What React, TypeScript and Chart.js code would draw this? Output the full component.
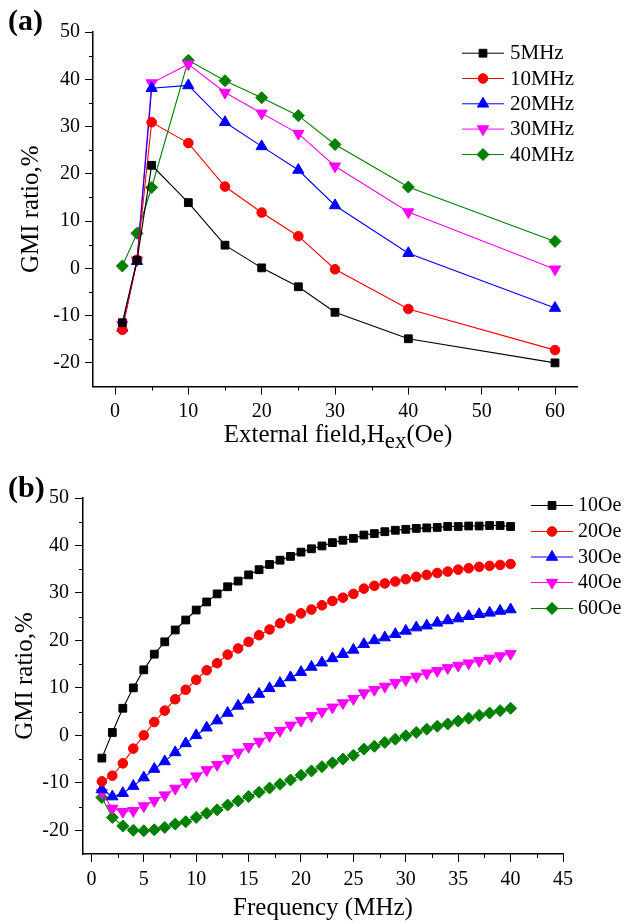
import React, { useEffect, useRef } from 'react';
import { Chart, registerables } from 'chart.js';
import { drawPoint } from 'chart.js/helpers';

Chart.register(...registerables);

const FONT = '"Liberation Serif", "Times New Roman", serif';

// ---------- Panel (a): GMI ratio vs external field ----------
const fieldOe = [1, 3, 5, 10, 15, 20, 25, 30, 40, 60];
const gmi5MHz = [-11.5, 1.7, 21.8, 13.9, 4.9, 0.1, -3.9, -9.3, -14.9, -20.0];
const gmi10MHz = [-13.0, 1.8, 30.9, 26.5, 17.3, 11.8, 6.8, -0.2, -8.6, -17.3];
const gmi20MHz = [-12.6, 1.5, 38.1, 38.7, 30.9, 25.8, 20.8, 13.3, 3.2, -8.4];
const gmi30MHz = [-11.9, 1.7, 39.2, 43.2, 37.2, 32.8, 28.5, 21.6, 11.9, -0.2];
const gmi40MHz = [0.5, 7.4, 17.1, 44.0, 39.7, 36.1, 32.3, 26.2, 17.2, 5.7];
const labelsA = ['5MHz', '10MHz', '20MHz', '30MHz', '40MHz'];
const xMajorA = [0, 10, 20, 30, 40, 50, 60];
const xMinorA = [5, 15, 25, 35, 45, 55];
const yMajor = [-20, -10, 0, 10, 20, 30, 40, 50];
const yMinor = [-15, -5, 5, 15, 25, 35, 45];

// ---------- Panel (b): GMI ratio vs frequency ----------
const freqMHz = [
  1, 2, 3, 4, 5, 6, 7, 8, 9, 10, 11, 12, 13, 14, 15, 16, 17, 18, 19, 20,
  21, 22, 23, 24, 25, 26, 27, 28, 29, 30, 31, 32, 33, 34, 35, 36, 37, 38, 39, 40,
];
const gmi10Oe = [
  -4.8, 0.6, 5.7, 10.0, 13.8, 17.1, 19.7, 22.2, 24.3, 26.4, 28.1, 29.8, 31.3, 32.5, 33.8, 34.9, 36.0, 36.9, 37.7, 38.6,
  39.3, 39.9, 40.6, 41.1, 41.5, 42.2, 42.5, 42.9, 43.2, 43.4, 43.6, 43.7, 43.8, 44.0, 44.0, 44.1, 44.1, 44.2, 44.2, 44.0,
];
const gmi20Oe = [
  -9.7, -8.5, -5.9, -2.8, 0.0, 2.8, 5.2, 7.6, 9.6, 11.7, 13.7, 15.2, 17.0, 18.3, 19.7, 21.1, 22.3, 23.6, 24.6, 25.7,
  26.5, 27.4, 28.3, 29.0, 29.8, 30.9, 31.5, 32.0, 32.4, 32.9, 33.4, 33.8, 34.2, 34.5, 34.9, 35.2, 35.5, 35.7, 35.9, 36.1,
];
const gmi30Oe = [
  -11.4, -12.9, -12.2, -10.7, -8.9, -7.1, -5.5, -3.6, -1.7, 0.0, 1.6, 3.1, 4.7, 6.2, 7.5, 8.7, 9.9, 11.0, 12.2, 13.3,
  14.4, 15.3, 16.2, 17.1, 18.0, 19.2, 20.0, 20.6, 21.3, 22.0, 22.7, 23.1, 23.7, 24.2, 24.6, 25.1, 25.5, 25.8, 26.2, 26.5,
];
const gmi40Oe = [
  -12.1, -15.4, -16.1, -15.9, -14.9, -13.8, -12.6, -11.2, -9.9, -8.6, -7.3, -6.2, -4.9, -3.6, -2.4, -1.3, -0.1, 1.0, 2.1, 3.1,
  4.1, 5.0, 5.9, 6.8, 7.7, 8.9, 9.6, 10.3, 11.1, 11.7, 12.4, 13.1, 13.6, 14.2, 14.7, 15.2, 15.7, 16.2, 16.7, 17.2,
];
const gmi60Oe = [
  -13.1, -17.3, -19.1, -20.0, -20.1, -19.9, -19.4, -18.7, -18.2, -17.3, -16.4, -15.7, -14.7, -13.8, -12.9, -12.0, -11.1, -10.3, -9.4, -8.4,
  -7.5, -6.6, -5.8, -5.0, -4.2, -2.9, -2.3, -1.5, -0.8, -0.1, 0.6, 1.3, 1.9, 2.4, 3.0, 3.6, 4.2, 4.7, 5.2, 5.7,
];
const labelsB = ['10Oe', '20Oe', '30Oe', '40Oe', '60Oe'];
const xMajorB = [0, 5, 10, 15, 20, 25, 30, 35, 40, 45];
const xMinorB = [2.5, 7.5, 12.5, 17.5, 22.5, 27.5, 32.5, 37.5, 42.5];

const yTitle = 'GMI ratio,%';
const xTitleA = ['External field,H', 'ex', '(Oe)'];
const xTitleB = 'Frequency (MHz)';

// ---------- styles ----------
const STYLES = [
  { color: '#000000', pointStyle: 'rect', rotation: 0, radius: 5.5 },
  { color: '#ff0000', pointStyle: 'circle', rotation: 0, radius: 4.8 },
  { color: '#0000ff', pointStyle: 'triangle', rotation: 0, radius: 6.5 },
  { color: '#ff00ff', pointStyle: 'triangle', rotation: 180, radius: 6.5 },
  { color: '#008000', pointStyle: 'rectRot', rotation: 0, radius: 6 },
];

function makeDatasets(xs: number[], series: number[][], labels: string[]) {
  return series.map((ys, i) => {
    const s = STYLES[i];
    return {
      label: labels[i],
      data: xs.map((x, j) => ({ x, y: ys[j] })),
      borderColor: s.color,
      backgroundColor: s.color,
      pointBackgroundColor: s.color,
      pointBorderColor: s.color,
      pointStyle: s.pointStyle,
      pointRotation: s.rotation,
      pointRadius: s.radius,
      pointBorderWidth: 1,
      borderWidth: 1.1,
      tension: 0,
      fill: false,
      clip: false,
    };
  });
}

const minorTickPlugin = {
  id: 'minorTicks',
  afterDraw(chart: any, _a: any, opts: any) {
    const ctx = chart.ctx;
    const xs = chart.scales.x;
    const ys = chart.scales.y;
    const len = opts.len || 4;
    ctx.save();
    ctx.strokeStyle = '#000';
    ctx.lineWidth = 1;
    (opts.x || []).forEach((v: number) => {
      const px = Math.round(xs.getPixelForValue(v)) + 0.5;
      ctx.beginPath();
      ctx.moveTo(px, xs.top);
      ctx.lineTo(px, xs.top + len);
      ctx.stroke();
    });
    (opts.y || []).forEach((v: number) => {
      const py = Math.round(ys.getPixelForValue(v)) + 0.5;
      ctx.beginPath();
      ctx.moveTo(ys.right, py);
      ctx.lineTo(ys.right - len, py);
      ctx.stroke();
    });
    ctx.restore();
  },
};

const legendPlugin = {
  id: 'seriesLegend',
  afterDraw(chart: any, _a: any, opts: any) {
    const ctx = chart.ctx;
    ctx.save();
    chart.data.datasets.forEach((ds: any, i: number) => {
      const y = opts.rows[i];
      ctx.strokeStyle = ds.borderColor;
      ctx.lineWidth = 1;
      ctx.beginPath();
      ctx.moveTo(opts.x0, y + 0.5);
      ctx.lineTo(opts.x1, y + 0.5);
      ctx.stroke();
      ctx.fillStyle = ds.pointBackgroundColor;
      ctx.strokeStyle = ds.pointBorderColor;
      drawPoint(
        ctx,
        { pointStyle: ds.pointStyle, rotation: ds.pointRotation || 0, radius: ds.pointRadius, borderWidth: 1 } as any,
        (opts.x0 + opts.x1) / 2,
        y + 0.5
      );
      ctx.fillStyle = '#000';
      ctx.font = opts.font;
      ctx.textBaseline = 'middle';
      ctx.textAlign = 'left';
      ctx.fillText(ds.label, opts.textX, y + 1);
    });
    ctx.restore();
  },
};

const textPlugin = {
  id: 'freeTexts',
  afterDraw(chart: any, _a: any, opts: any) {
    const ctx = chart.ctx;
    ctx.save();
    ctx.fillStyle = '#000';
    ctx.textBaseline = 'alphabetic';
    ctx.textAlign = 'left';
    (opts.items || []).forEach((it: any) => {
      let total = 0;
      it.parts.forEach((p: any) => {
        ctx.font = p.font;
        total += ctx.measureText(p.text).width;
      });
      let x = it.align === 'center' ? it.x - total / 2 : it.x;
      it.parts.forEach((p: any) => {
        ctx.font = p.font;
        ctx.fillText(p.text, x, it.y + (p.dy || 0));
        x += ctx.measureText(p.text).width;
      });
    });
    ctx.restore();
  },
};

function axisCommon(major: number[], height: number | null, width: number | null, pad: number) {
  return {
    type: 'linear',
    afterBuildTicks: (s: any) => {
      s.ticks = major.map((v) => ({ value: v }));
    },
    afterFit: (s: any) => {
      if (height !== null) s.height = height;
      if (width !== null) s.width = width;
    },
    grid: {
      display: true,
      drawOnChartArea: false,
      drawTicks: true,
      tickLength: 8,
      color: '#000',
      tickColor: '#000',
      lineWidth: 1,
    },
    border: { display: true, color: '#000', width: 1.5 },
    ticks: {
      font: { family: FONT, size: 20 },
      color: '#000',
      padding: pad,
      maxRotation: 0,
      autoSkip: false,
      callback: (v: any) => String(v),
    },
  };
}

function configA(): any {
  return {
    type: 'line',
    data: { datasets: makeDatasets(fieldOe, [gmi5MHz, gmi10MHz, gmi20MHz, gmi30MHz, gmi40MHz], labelsA) },
    plugins: [minorTickPlugin, legendPlugin, textPlugin],
    options: {
      animation: false,
      responsive: false,
      layout: { padding: { left: 0, top: 32, right: 50, bottom: 0 } },
      scales: {
        x: { ...axisCommon(xMajorA, 73.5, null, 5), min: -3, max: 63 },
        y: {
          ...axisCommon(yMajor, null, 93, 5),
          min: -25,
          max: 50,
          title: {
            display: true,
            text: yTitle,
            color: '#000',
            font: { family: FONT, size: 25, lineHeight: 1 },
            padding: { top: 19, bottom: 0 },
          },
        },
      },
      plugins: {
        legend: { display: false },
        tooltip: { enabled: false },
        minorTicks: { x: xMinorA, y: yMinor, len: 4 },
        seriesLegend: { x0: 462, x1: 504, textX: 510, rows: [52.7, 78, 103.3, 128.6, 154], font: `21px ${FONT}` },
        freeTexts: {
          items: [
            { align: 'left', x: 8, y: 30, parts: [{ text: '(a)', font: `bold 30px ${FONT}` }] },
            {
              align: 'center',
              x: 338,
              y: 442,
              parts: [
                { text: xTitleA[0], font: `25px ${FONT}` },
                { text: xTitleA[1], font: `23px ${FONT}`, dy: 6 },
                { text: xTitleA[2], font: `25px ${FONT}` },
              ],
            },
          ],
        },
      },
    },
  };
}

function configB(): any {
  return {
    type: 'line',
    data: { datasets: makeDatasets(freqMHz, [gmi10Oe, gmi20Oe, gmi30Oe, gmi40Oe, gmi60Oe], labelsB) },
    plugins: [minorTickPlugin, legendPlugin, textPlugin],
    options: {
      animation: false,
      responsive: false,
      layout: { padding: { left: 0, top: 38, right: 64, bottom: 0 } },
      scales: {
        x: {
          ...axisCommon(xMajorB, 68, null, 6),
          min: -0.8,
          max: 45,
          title: {
            display: true,
            text: xTitleB,
            color: '#000',
            font: { family: FONT, size: 25, lineHeight: 1 },
            padding: { top: 0, bottom: 1 },
          },
        },
        y: {
          ...axisCommon(yMajor, null, 83, 6),
          min: -25,
          max: 50,
          title: {
            display: true,
            text: yTitle,
            color: '#000',
            font: { family: FONT, size: 25, lineHeight: 1 },
            padding: { top: 13, bottom: 0 },
          },
        },
      },
      plugins: {
        legend: { display: false },
        tooltip: { enabled: false },
        minorTicks: { x: xMinorB, y: yMinor, len: 4 },
        seriesLegend: { x0: 531, x1: 573, textX: 578, rows: [45, 71, 96.5, 122, 148], font: `20px ${FONT}` },
        freeTexts: {
          items: [{ align: 'left', x: 8, y: 37, parts: [{ text: '(b)', font: `bold 30px ${FONT}` }] }],
        },
      },
    },
  };
}

function Panel({ make, top, height }: { make: () => any; top: number; height: number }) {
  const ref = useRef<HTMLCanvasElement>(null);
  useEffect(() => {
    const chart = new Chart(ref.current as HTMLCanvasElement, make());
    return () => chart.destroy();
  }, []);
  return (
    <div style={{ position: 'absolute', left: 0, top, width: 627, height }}>
      <canvas ref={ref} width={627} height={height} style={{ display: 'block', width: 627, height }} />
    </div>
  );
}

export default function App() {
  return (
    <div style={{ position: 'absolute', left: 0, top: 0, width: 627, height: 922, background: '#fff', overflow: 'hidden' }}>
      <Panel make={configA} top={0} height={460} />
      <Panel make={configB} top={460} height={462} />
    </div>
  );
}
